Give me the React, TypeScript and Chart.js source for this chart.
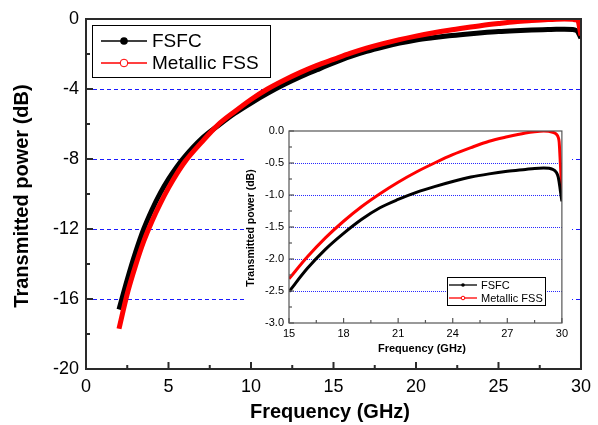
import React, { useEffect, useRef } from "react";
import { Chart, registerables } from "chart.js";

Chart.register(...registerables);

// ---------- data ----------
const FREQ_GHZ = [2, 2.5, 3, 3.5, 4, 4.5, 5, 5.5, 6, 7, 8, 9, 10, 11, 12, 13, 14, 15, 16, 17, 18, 19, 20, 21, 22, 23, 24, 25, 26, 27, 28, 28.5, 29, 29.5, 29.7, 29.8, 29.85, 29.9, 30];
const FSFC_DB = [-16.6, -14.9, -13.35, -12.0, -10.9, -9.95, -9.15, -8.45, -7.85, -6.85, -6.1, -5.4, -4.8, -4.25, -3.75, -3.3, -2.9, -2.51, -2.15, -1.85, -1.6, -1.38, -1.2, -1.07, -0.96, -0.87, -0.79, -0.72, -0.67, -0.63, -0.6, -0.585, -0.58, -0.6, -0.65, -0.72, -0.8, -0.9, -1.1];
const METALLIC_DB = [-17.7, -15.7, -14.1, -12.7, -11.55, -10.55, -9.65, -8.85, -8.15, -7.05, -6.05, -5.3, -4.6, -4.0, -3.5, -3.05, -2.65, -2.31, -1.97, -1.67, -1.41, -1.18, -0.98, -0.8, -0.64, -0.5, -0.37, -0.26, -0.16, -0.09, -0.03, -0.01, 0.0, -0.02, -0.05, -0.1, -0.17, -0.42, -0.95];
const SERIES_NAMES = ["FSFC", "Metallic FSS"];
const MAIN_GRID_DB = [-4, -8, -12, -16];
const INSET_GRID_DB = [-0.5, -1.0, -1.5, -2.0, -2.5];
const INSET_MIN_GHZ = 15;

const FONT = "'Liberation Sans', Arial, Helvetica, sans-serif";

type Cfg = {
  gridVals: number[];
  gridColor: string;
  gridDash: number[];
  frameColor: string;
  frameWidth: number;
  xMajor: number;
  xMinor: number;
  yMajor: number;
  yMinor: number;
  majorLen: number;
  minorLen: number;
  xTitle: { text: string; x: number; y: number; font: string };
  yTitle: { text: string; x: number; y: number; font: string };
  legend: { x: number; y: number; w: number; h: number; rows: number[]; lineX0: number; lineX1: number; textX: number; font: string; r: number; lw: number };
};

function makePlugin(cfg: Cfg) {
  return {
    id: "custom_" + Math.random().toString(36).slice(2),
    beforeDatasetsDraw(chart: any) {
      const { ctx, chartArea: a, scales } = chart;
      ctx.save();
      ctx.strokeStyle = cfg.gridColor;
      ctx.lineWidth = 1;
      ctx.setLineDash(cfg.gridDash);
      for (const v of cfg.gridVals) {
        const y = Math.round(scales.y.getPixelForValue(v)) + 0.5;
        ctx.beginPath();
        ctx.moveTo(a.left, y);
        ctx.lineTo(a.right, y);
        ctx.stroke();
      }
      ctx.restore();
    },
    afterDatasetsDraw(chart: any) {
      const { ctx, chartArea: a, scales } = chart;
      ctx.save();
      ctx.strokeStyle = cfg.frameColor;
      ctx.lineWidth = cfg.frameWidth;
      ctx.setLineDash([]);
      ctx.strokeRect(a.left, a.top, a.right - a.left, a.bottom - a.top);
      const xs = scales.x;
      const ys = scales.y;
      const eps = 1e-6;
      for (let v = xs.min; v <= xs.max + eps; v += cfg.xMinor) {
        const isMajor = Math.abs(v / cfg.xMajor - Math.round(v / cfg.xMajor)) < 1e-6;
        const x = xs.getPixelForValue(v);
        ctx.beginPath();
        ctx.moveTo(x, a.bottom);
        ctx.lineTo(x, a.bottom - (isMajor ? cfg.majorLen : cfg.minorLen));
        ctx.stroke();
      }
      for (let v = ys.min; v <= ys.max + eps; v += cfg.yMinor) {
        const isMajor = Math.abs(v / cfg.yMajor - Math.round(v / cfg.yMajor)) < 1e-6;
        const y = ys.getPixelForValue(v);
        ctx.beginPath();
        ctx.moveTo(a.left, y);
        ctx.lineTo(a.left + (isMajor ? cfg.majorLen : cfg.minorLen), y);
        ctx.stroke();
      }
      ctx.restore();
    },
    afterDraw(chart: any) {
      const { ctx } = chart;
      ctx.save();
      ctx.fillStyle = "#000";
      ctx.font = cfg.xTitle.font;
      ctx.textAlign = "center";
      ctx.textBaseline = "middle";
      ctx.fillText(cfg.xTitle.text, cfg.xTitle.x, cfg.xTitle.y);
      ctx.save();
      ctx.translate(cfg.yTitle.x, cfg.yTitle.y);
      ctx.rotate(-Math.PI / 2);
      ctx.font = cfg.yTitle.font;
      ctx.fillText(cfg.yTitle.text, 0, 0);
      ctx.restore();
      const L = cfg.legend;
      ctx.fillStyle = "#fff";
      ctx.fillRect(L.x, L.y, L.w, L.h);
      ctx.strokeStyle = "#000";
      ctx.lineWidth = 1;
      ctx.strokeRect(L.x + 0.5, L.y + 0.5, L.w, L.h);
      const colors = ["#000000", "#ff0000"];
      L.rows.forEach((ry, i) => {
        ctx.strokeStyle = colors[i];
        ctx.lineWidth = L.lw;
        ctx.beginPath();
        ctx.moveTo(L.lineX0, ry);
        ctx.lineTo(L.lineX1, ry);
        ctx.stroke();
        const cx = (L.lineX0 + L.lineX1) / 2;
        ctx.beginPath();
        ctx.arc(cx, ry, L.r, 0, Math.PI * 2);
        if (i === 0) {
          ctx.fillStyle = "#000";
          ctx.fill();
        } else {
          ctx.fillStyle = "#fff";
          ctx.fill();
          ctx.lineWidth = 1;
          ctx.stroke();
        }
        ctx.fillStyle = "#000";
        ctx.font = L.font;
        ctx.textAlign = "left";
        ctx.textBaseline = "middle";
        ctx.fillText(SERIES_NAMES[i], L.textX, ry + 1);
      });
      ctx.restore();
    },
  };
}

function buildPoints(minX: number, vals: number[]) {
  const out: { x: number; y: number }[] = [];
  FREQ_GHZ.forEach((f, i) => {
    if (f >= minX) out.push({ x: f, y: vals[i] });
  });
  return out;
}

function MainChart() {
  const ref = useRef<HTMLCanvasElement>(null);
  useEffect(() => {
    const plugin = makePlugin({
      gridVals: MAIN_GRID_DB,
      gridColor: "#1a1aff",
      gridDash: [4, 3],
      frameColor: "#2a2a2a",
      frameWidth: 2,
      xMajor: 5,
      xMinor: 2.5,
      yMajor: 4,
      yMinor: 2,
      majorLen: 7,
      minorLen: 4,
      xTitle: { text: "Frequency (GHz)", x: 330, y: 412, font: `bold 20px ${FONT}` },
      yTitle: { text: "Transmitted power (dB)", x: 22, y: 196, font: `bold 20px ${FONT}` },
      legend: { x: 92, y: 25, w: 178, h: 52, rows: [41, 63], lineX0: 101, lineX1: 147, textX: 152, font: `19px ${FONT}`, r: 3.8, lw: 1.5 },
    });
    const chart = new Chart(ref.current!, {
      type: "line",
      data: {
        datasets: [
          {
            label: SERIES_NAMES[0],
            data: buildPoints(0, FSFC_DB),
            borderColor: "#000000",
            backgroundColor: "#000000",
            borderWidth: 5,
            pointRadius: 0,
            cubicInterpolationMode: "monotone",
            order: 2,
          },
          {
            label: SERIES_NAMES[1],
            data: buildPoints(0, METALLIC_DB),
            borderColor: "#ff0000",
            backgroundColor: "#ff0000",
            borderWidth: 5,
            pointRadius: 0,
            cubicInterpolationMode: "monotone",
            order: 1,
          },
        ],
      },
      options: {
        responsive: false,
        animation: false,
        events: [],
        layout: { padding: { top: 19, right: 11, left: 0, bottom: 0 } },
        plugins: { legend: { display: false }, tooltip: { enabled: false }, title: { display: false } },
        scales: {
          x: {
            type: "linear",
            min: 0,
            max: 30,
            grid: { display: false, drawTicks: false },
            border: { display: false },
            ticks: { stepSize: 5, color: "#000", font: { family: FONT, size: 18 }, padding: 7, maxRotation: 0 },
            afterFit: (s: any) => { s.height = 56; },
          },
          y: {
            type: "linear",
            min: -20,
            max: 0,
            grid: { display: false, drawTicks: false },
            border: { display: false },
            ticks: { stepSize: 4, color: "#000", font: { family: FONT, size: 18 }, padding: 7, callback: (v: any) => String(v) },
            afterFit: (s: any) => { s.width = 86; },
          },
        },
      },
      plugins: [plugin],
    } as any);
    return () => chart.destroy();
  }, []);
  return <canvas ref={ref} width={598} height={425} style={{ position: "absolute", left: 0, top: 0, width: 598, height: 425 }} />;
}

function InsetChart() {
  const ref = useRef<HTMLCanvasElement>(null);
  useEffect(() => {
    const plugin = makePlugin({
      gridVals: INSET_GRID_DB,
      gridColor: "#2828ff",
      gridDash: [1, 1],
      frameColor: "#555555",
      frameWidth: 1.2,
      xMajor: 3,
      xMinor: 1.5,
      yMajor: 0.5,
      yMinor: 0.25,
      majorLen: 5,
      minorLen: 3,
      xTitle: { text: "Frequency (GHz)", x: 177, y: 231, font: `bold 11px ${FONT}` },
      yTitle: { text: "Transmitted power (dB)", x: 6, y: 110, font: `bold 10.5px ${FONT}` },
      legend: { x: 202, y: 159, w: 98, h: 28, rows: [167, 180], lineX0: 204, lineX1: 232, textX: 236, font: `11px ${FONT}`, r: 1.8, lw: 1.3 },
    });
    const chart = new Chart(ref.current!, {
      type: "line",
      data: {
        datasets: [
          {
            label: SERIES_NAMES[0],
            data: buildPoints(INSET_MIN_GHZ, FSFC_DB),
            borderColor: "#000000",
            backgroundColor: "#000000",
            borderWidth: 3,
            pointRadius: 0,
            cubicInterpolationMode: "monotone",
          },
          {
            label: SERIES_NAMES[1],
            data: buildPoints(INSET_MIN_GHZ, METALLIC_DB),
            borderColor: "#ff0000",
            backgroundColor: "#ff0000",
            borderWidth: 3,
            pointRadius: 0,
            cubicInterpolationMode: "monotone",
          },
        ],
      },
      options: {
        responsive: false,
        animation: false,
        events: [],
        layout: { padding: { top: 13, right: 7, left: 0, bottom: 0 } },
        plugins: { legend: { display: false }, tooltip: { enabled: false }, title: { display: false } },
        scales: {
          x: {
            type: "linear",
            min: 15,
            max: 30,
            grid: { display: false, drawTicks: false },
            border: { display: false },
            ticks: { stepSize: 3, color: "#000", font: { family: FONT, size: 11 }, padding: 4, maxRotation: 0 },
            afterFit: (s: any) => { s.height = 35; },
          },
          y: {
            type: "linear",
            min: -3,
            max: 0,
            grid: { display: false, drawTicks: false },
            border: { display: false },
            ticks: { stepSize: 0.5, color: "#000", font: { family: FONT, size: 11 }, padding: 5, callback: (v: any) => Number(v).toFixed(1) },
            afterFit: (s: any) => { s.width = 44; },
          },
        },
      },
      plugins: [plugin],
    } as any);
    return () => chart.destroy();
  }, []);
  return <canvas ref={ref} width={327} height={240} style={{ position: "absolute", left: 245, top: 118, width: 327, height: 240, background: "#fff" }} />;
}

export default function App() {
  return (
    <div style={{ position: "absolute", left: 0, top: 0, width: 598, height: 425, background: "#fff", overflow: "hidden" }}>
      <MainChart />
      <InsetChart />
    </div>
  );
}
